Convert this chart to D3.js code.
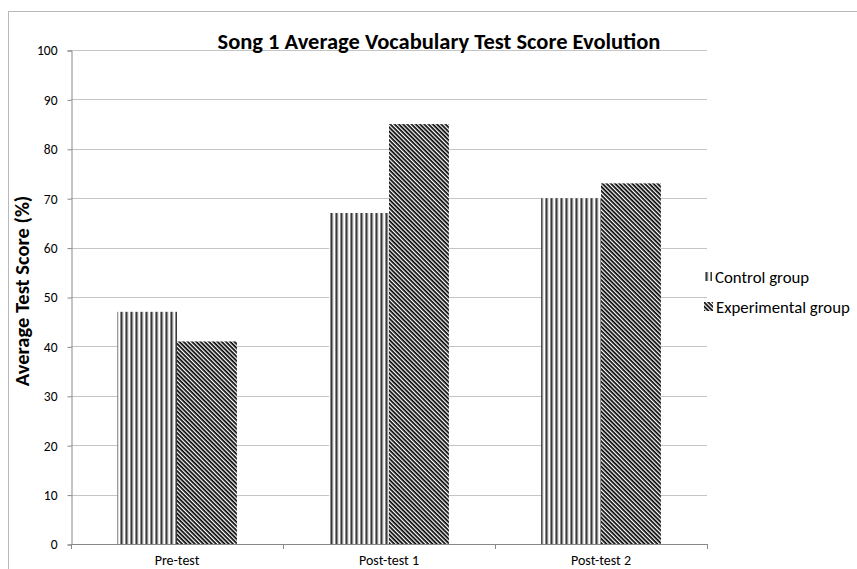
<!DOCTYPE html>
<html><head><meta charset="utf-8">
<script src="https://cdn.jsdelivr.net/npm/d3@7"></script>
<style>
body{margin:0;background:#fff;}
svg{display:block;font-family:Calibri,Carlito,Lato,sans-serif;}
</style></head>
<body><svg id="c" width="857" height="569"></svg>
<script>
const categories = ["Pre-test", "Post-test 1", "Post-test 2"];
const seriesNames = ["Control group", "Experimental group"];
const controlValues = [47, 67, 70];
const experimentalValues = [41, 85, 73];
const yTicks = [0, 10, 20, 30, 40, 50, 60, 70, 80, 90, 100];
const title = "Song 1 Average Vocabulary Test Score Evolution";
const yTitle = "Average Test Score (%)";

(function(){
const seriesValues = [controlValues, experimentalValues];
const svg = d3.select("#c");
const defs = svg.append("defs");

// vertical line pattern
const pv = defs.append("pattern").attr("id","pv").attr("patternUnits","userSpaceOnUse")
  .attr("width",5).attr("height",5).attr("x",0.5);
pv.append("rect").attr("width",5).attr("height",5).attr("fill","#fff");
pv.append("rect").attr("x",0).attr("width",1.8).attr("height",5).attr("fill","#1a1a1a");
pv.append("rect").attr("x",1.8).attr("width",0.8).attr("height",5).attr("fill","#999");
// diagonal pattern
const pd = defs.append("pattern").attr("id","pd").attr("patternUnits","userSpaceOnUse")
  .attr("width",3).attr("height",3).attr("patternTransform","rotate(45)");
pd.append("rect").attr("width",3).attr("height",3).attr("fill","#fff");
pd.append("rect").attr("y",0).attr("width",3).attr("height",1.7).attr("fill","#000");
const fills = ["url(#pv)","url(#pd)"];

// outer border
svg.append("rect").attr("x",8.5).attr("y",11.5).attr("width",900).attr("height",600)
  .attr("fill","none").attr("stroke","#b8b8b8").attr("stroke-width",1);

const pLeft = 71, pRight = 707, pTop = 50, pBottom = 544;
const y = d3.scaleLinear().domain([0,100]).range([pBottom, pTop]);
const x0 = d3.scaleBand().domain(categories).range([pLeft, pRight]).padding(0);
const x1 = d3.scaleBand().domain(seriesNames).range([0, x0.bandwidth()]).paddingInner(0).paddingOuter(0.77);

// gridlines
svg.append("g").selectAll("line").data(yTicks.filter(d=>d>0)).join("line")
  .attr("x1",pLeft).attr("x2",pRight).attr("y1",d=>Math.round(y(d))+0.5).attr("y2",d=>Math.round(y(d))+0.5)
  .attr("stroke","#c4c4c4").attr("stroke-width",1);

// bars
seriesNames.forEach((s,si)=>{
  svg.append("g").selectAll("rect").data(categories).join("rect")
    .attr("x",c=>x0(c)+x1(s))
    .attr("width",x1.bandwidth())
    .attr("y",(c,i)=>y(seriesValues[si][i]))
    .attr("height",(c,i)=>pBottom - y(seriesValues[si][i]))
    .attr("fill",fills[si]);
});

// y axis
const ya = svg.append("g").attr("transform",`translate(${pLeft+0.5},0.5)`)
  .call(d3.axisLeft(y).tickValues(yTicks).tickSize(4).tickPadding(10));
ya.select(".domain").attr("stroke","#888");
ya.selectAll(".tick line").attr("stroke","#888");
ya.selectAll(".tick text").attr("font-size",13.5).attr("fill","#000")
  .attr("font-family","Calibri,Carlito,Lato,sans-serif");

// x axis
const xa = svg.append("g").attr("transform",`translate(0,${pBottom+0.5})`)
  .call(d3.axisBottom(x0).tickSize(0).tickPadding(11));
xa.select(".domain").attr("stroke","#888").attr("d",`M${pLeft},0H${pRight}`);
xa.selectAll(".tick text").attr("font-size",14).attr("fill","#000")
  .attr("font-family","Calibri,Carlito,Lato,sans-serif");
// category boundary ticks
svg.append("g").selectAll("line").data([pLeft, ...categories.map(c=>x0(c)+x0.bandwidth())]).join("line")
  .attr("x1",d=>Math.round(d)+0.5).attr("x2",d=>Math.round(d)+0.5)
  .attr("y1",pBottom).attr("y2",pBottom+5).attr("stroke","#888");

// title
svg.append("text").attr("x",439).attr("y",49).attr("text-anchor","middle")
  .attr("font-size",22.5).attr("font-weight","bold").text(title);

// y title
svg.append("text").attr("transform","translate(29,291) rotate(-90)").attr("text-anchor","middle")
  .attr("font-size",20.5).attr("font-weight","bold").text(yTitle);

// legend
const lg = svg.append("g");
seriesNames.forEach((s,i)=>{
  const ly = 277 + i*30;
  lg.append("rect").attr("x",704).attr("y",ly-5).attr("width",i===0?8:9).attr("height",9).attr("fill",fills[i]);
  lg.append("text").attr("x",i===0?715:716).attr("y",ly).attr("dy","0.35em")
    .attr("font-size",16.8).text(s);
});
})();
</script>
</body></html>
